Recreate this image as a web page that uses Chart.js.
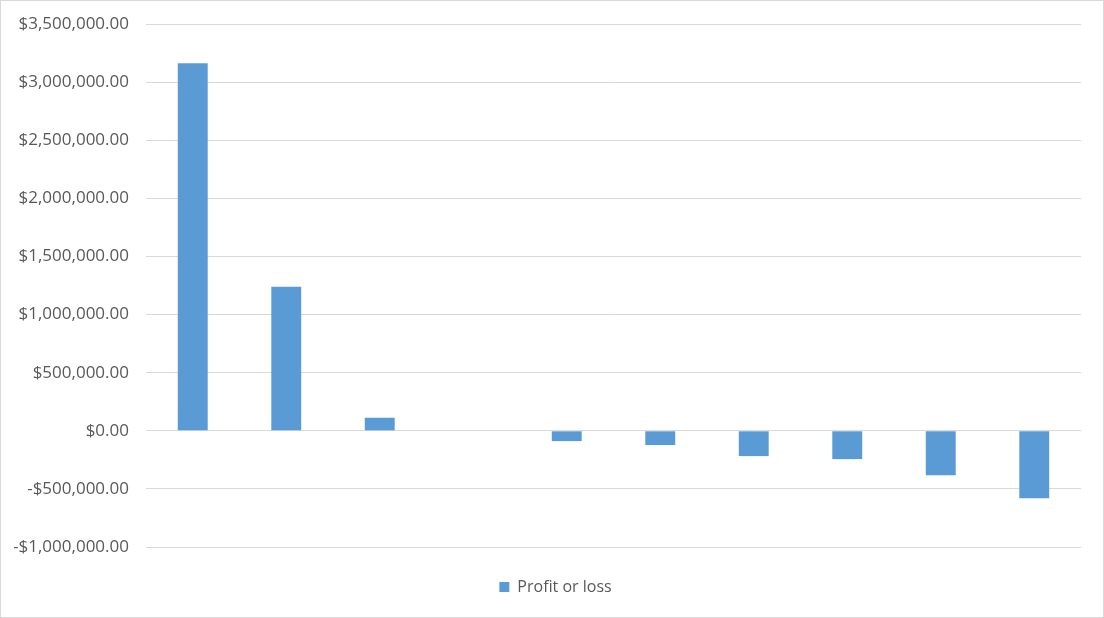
<!DOCTYPE html>
<html>
<head>
<meta charset="utf-8">
<script src="https://cdn.jsdelivr.net/npm/chart.js@4/dist/chart.umd.min.js"></script>
<style>
html,body{margin:0;padding:0;background:#fff;}
#wrap{width:1104px;height:618px;position:relative;}
</style>
</head>
<body>
<div id="wrap"><canvas id="c" width="1104" height="618"></canvas></div>
<script>
const categories = ["1","2","3","4","5","6","7","8","9","10"];
const seriesName = "Profit or loss";
const profitOrLoss = [3162000, 1240000, 112000, 0, -89000, -123000, -218000, -244000, -382000, -580000];
const yMin = -1000000, yMax = 3500000, yStep = 500000;

const fontFamily = "'Open Sans', sans-serif";
const textColor = "#595959";

const frame = {
  id: 'frame',
  afterInit(chart){
    const lg = chart.legend;
    if (lg) {
      const orig = lg.fit;
      lg.fit = function(){ orig.call(this); this.height = 71; };
    }
  },
  afterLayout(chart){
    const lg = chart.legend;
    if (lg) { lg.left += 8; lg.right += 8; }
  },
  beforeDraw(chart){
    const ctx = chart.ctx;
    ctx.save();
    ctx.fillStyle = '#ffffff';
    ctx.fillRect(0,0,chart.width,chart.height);
    ctx.restore();
  },
  afterDraw(chart){
    const ctx = chart.ctx;
    ctx.save();
    ctx.strokeStyle = '#d9d9d9';
    ctx.lineWidth = 1;
    ctx.strokeRect(0.5,0.5,chart.width-1,chart.height-1);
    ctx.restore();
  }
};

function fmt(v){
  const s = Math.abs(v).toLocaleString('en-US',{minimumFractionDigits:2,maximumFractionDigits:2});
  return (v<0?'-':'') + '$' + s;
}

new Chart(document.getElementById('c'), {
  type: 'bar',
  data: {
    labels: categories,
    datasets: [{
      label: seriesName,
      data: profitOrLoss,
      backgroundColor: '#5b9bd5',
      borderWidth: 0,
      categoryPercentage: 1,
      barPercentage: 0.32
    }]
  },
  options: {
    responsive: false,
    animation: false,
    devicePixelRatio: 1,
    layout: { padding: { top: 24, right: 23, left: 14, bottom: 0 } },
    scales: {
      x: { display: false },
      y: {
        min: yMin, max: yMax,
        afterFit(scale){ scale.width = 132; scale.paddingTop = 0; },
        ticks: {
          stepSize: yStep,
          color: textColor,
          font: { family: fontFamily, size: 17 },
          padding: 17,
          callback: (v) => fmt(v)
        },
        grid: { color: '#d9d9d9', lineWidth: 1, drawTicks: false },
        border: { display: false }
      }
    },
    plugins: {
      legend: {
        position: 'bottom',
        labels: {
          color: textColor,
          font: { family: fontFamily, size: 16 },
          boxWidth: 10, boxHeight: 10,
          padding: 32
        }
      },
      tooltip: { enabled: false }
    }
  },
  plugins: [frame]
});
</script>
</body>
</html>
